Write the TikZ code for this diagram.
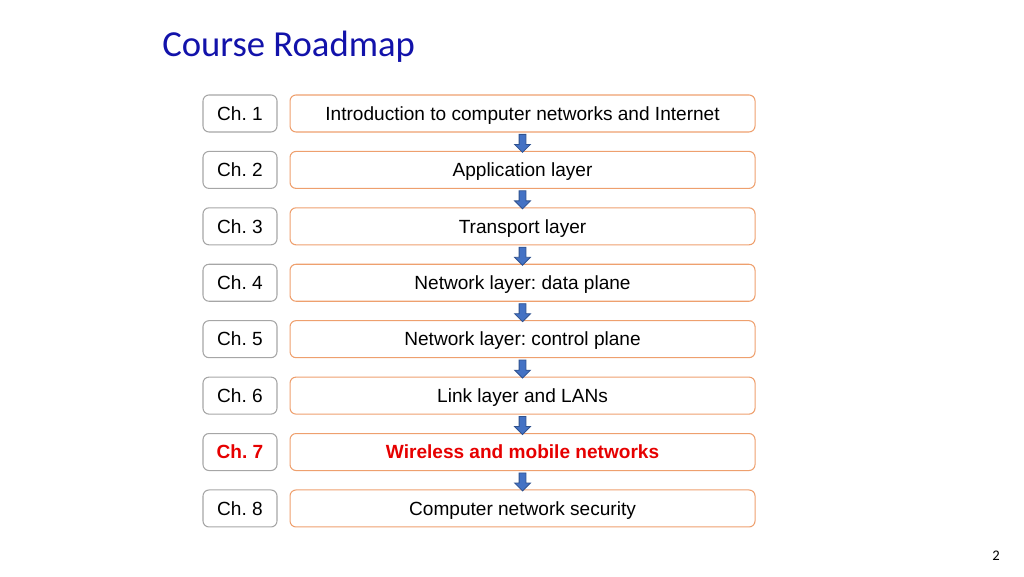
\documentclass[tikz,border=0pt]{standalone}
\usepackage{fontspec}
\setmainfont{Liberation Sans}
\newfontfamily\titlefont{Carlito}
\usetikzlibrary{positioning,shapes.arrows}
\definecolor{titleblue}{RGB}{18,18,170}
\definecolor{chapgray}{RGB}{166,166,166}
\definecolor{topicorange}{RGB}{238,160,110}
\definecolor{flowblue}{RGB}{68,114,196}
\definecolor{flowline}{RGB}{47,82,143}
\definecolor{hotred}{RGB}{230,0,0}
\frenchspacing

\begin{document}
\begin{tikzpicture}[node distance=42.32pt,on grid,
		chap/.style={draw=chapgray,rounded corners=4.5pt,line width=0.8pt,minimum width=55.5pt,minimum height=27.75pt,inner sep=0pt,text height=10.2pt,text depth=0pt,font=\fontsize{14.3}{16}\selectfont},
		topic/.style={draw=topicorange,rounded corners=4.5pt,line width=0.8pt,minimum width=348.75pt,minimum height=27.75pt,inner sep=0pt,text height=10.2pt,text depth=0pt,font=\fontsize{14.3}{16}\selectfont},
		hot/.style={text=hotred,font=\fontsize{14.3}{16}\selectfont\bfseries},
		flow/.style={single arrow,draw=flowline,fill=flowblue,line width=0.6pt,rotate=-90,inner sep=2.25pt,minimum height=13.5pt,single arrow head extend=3.4pt,single arrow head indent=0pt}]
	\useasboundingbox (0,0) rectangle (768pt,-432pt);
	\node[anchor=base west,inner sep=0pt,text=titleblue,font=\titlefont\fontsize{27.5}{32}\selectfont] (title) at (121.5pt,-42pt) {Course Roadmap};
	\node[chap] (c_1) at (180pt,-85.1pt) {Ch. 1};
	\node[chap] (c_2) [below=of c_1] {Ch. 2};
	\node[chap] (c_3) [below=of c_2] {Ch. 3};
	\node[chap] (c_4) [below=of c_3] {Ch. 4};
	\node[chap] (c_5) [below=of c_4] {Ch. 5};
	\node[chap] (c_6) [below=of c_5] {Ch. 6};
	\node[chap,hot] (c_7) [below=of c_6] {Ch. 7};
	\node[chap] (c_8) [below=of c_7] {Ch. 8};
	\node[topic] (t_1) [right=211.9pt of c_1] {Introduction to computer networks and Internet};
	\node[topic] (t_2) [right=211.9pt of c_2] {Application layer};
	\node[topic] (t_3) [right=211.9pt of c_3] {Transport layer};
	\node[topic] (t_4) [right=211.9pt of c_4] {Network layer: data plane};
	\node[topic] (t_5) [right=211.9pt of c_5] {Network layer: control plane};
	\node[topic] (t_6) [right=211.9pt of c_6] {Link layer and LANs};
	\node[topic,hot] (t_7) [right=211.9pt of c_7] {Wireless and mobile networks};
	\node[topic] (t_8) [right=211.9pt of c_8] {Computer network security};
	\foreach \i/\j in {1/2,2/3,3/4,4/5,5/6,6/7,7/8}
		\path (t_\i.south) -- (t_\j.north) node[midway,flow] (f_\i) {};
	\node[anchor=base,inner sep=0pt,font=\titlefont\fontsize{11}{12}\selectfont] (page) at (747pt,-420pt) {2};
\end{tikzpicture}
\end{document}
